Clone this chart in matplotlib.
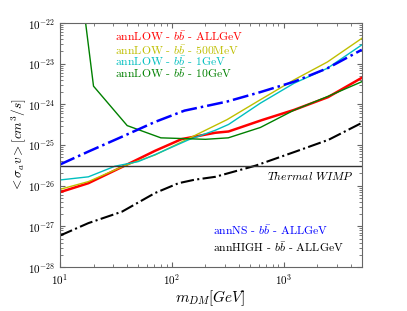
import matplotlib
matplotlib.use('Agg')
import matplotlib.pyplot as plt

plt.rcParams['mathtext.fontset'] = 'cm'
plt.rcParams['font.family'] = ['cmr10', 'DejaVu Serif']
plt.rcParams['axes.formatter.use_mathtext'] = True

# annLOW - bb - ALLGeV
m_all = [10, 18, 38, 71, 123, 245, 322, 640, 1240, 2490, 5000]
v_all = [6.9e-27, 1.15e-26, 3.1e-26, 7.2e-26, 1.4e-25, 2.0e-25, 2.15e-25, 4.1e-25, 7.3e-25, 1.5e-24, 4.5e-24]

# annLOW - bb - 500MeV
m_500 = [10, 18, 38, 71, 142, 312, 620, 1240, 2460, 5000]
v_500 = [8.1e-27, 1.26e-26, 3.1e-26, 5.7e-26, 1.45e-25, 4.2e-25, 1.3e-24, 4.0e-24, 1.1e-23, 4.2e-23]

# annLOW - bb - 1GeV
m_1 = [10, 18, 31, 50, 71, 142, 245, 322, 620, 1240, 2460, 5000]
v_1 = [1.38e-26, 1.65e-26, 3.0e-26, 3.9e-26, 5.8e-26, 1.35e-25, 2.3e-25, 3.2e-25, 1.07e-24, 3.3e-24, 7.7e-24, 2.9e-23]

# annLOW - bb - 10GeV
m_10 = [16, 20, 40, 80, 200, 320, 620, 1240, 2460, 5000]
v_10 = [3.8e-22, 2.8e-24, 3.0e-25, 1.5e-25, 1.38e-25, 1.5e-25, 2.7e-25, 7.2e-25, 1.55e-24, 3.6e-24]

# annNS - bb - ALLGeV
m_ns = [10, 18, 36, 71, 130, 200, 312, 620, 1240, 2460, 5000]
v_ns = [3.3e-26, 6.9e-26, 1.6e-25, 3.7e-25, 7.0e-25, 9.0e-25, 1.17e-24, 2.0e-24, 3.6e-24, 7.7e-24, 2.2e-23]

# annHIGH - bb - ALLGeV
m_high = [10, 18, 36, 71, 115, 160, 245, 560, 1280, 2530, 5000]
v_high = [5.9e-28, 1.2e-27, 2.3e-27, 6.6e-27, 1.15e-26, 1.4e-26, 1.65e-26, 3.1e-26, 6.9e-26, 1.35e-25, 3.5e-25]

thermal = 3e-26

low_labels = [r'annLOW - $b\bar{b}$ - ALLGeV',
              r'annLOW - $b\bar{b}$ - 500MeV',
              r'annLOW - $b\bar{b}$ - 1GeV',
              r'annLOW - $b\bar{b}$ - 10GeV']
low_colors = ['r', 'y', 'c', 'g']
other_labels = [r'annNS - $b\bar{b}$ - ALLGeV',
                r'annHIGH - $b\bar{b}$ - ALLGeV']
other_colors = ['b', 'k']

fig = plt.figure(figsize=(4.07, 3.11), dpi=100)
ax = fig.add_axes([0.147, 0.1415, 0.742, 0.7845])

ax.plot(m_all, v_all, color='r', lw=1.8)
ax.plot(m_500, v_500, color='y', lw=1)
ax.plot(m_1, v_1, color='c', lw=1)
ax.plot(m_10, v_10, color='g', lw=1)
ax.plot(m_ns, v_ns, color='b', lw=1.8, ls='-.')
ax.plot(m_high, v_high, color='k', lw=1.5, ls='-.')
ax.axhline(thermal, color='0.2', lw=1)
ax.text(0.973, 0.377, r'$\mathit{Thermal\ WIMP}$', transform=ax.transAxes,
        ha='right', va='center', fontsize=8.5)

# label blocks written as coloured text, like a legend without handles
for i, (lab, c) in enumerate(zip(low_labels, low_colors)):
    ax.text(0.182, [0.947, 0.891, 0.842, 0.796][i], lab, color=c,
            transform=ax.transAxes, ha='left', va='center', fontsize=8.4)
for i, (lab, c) in enumerate(zip(other_labels, other_colors)):
    ax.text(0.507, [0.150, 0.080][i], lab, color=c,
            transform=ax.transAxes, ha='left', va='center', fontsize=8.4)

ax.set_xscale('log')
ax.set_yscale('log')
ax.set_xlim(10, 5000)
ax.set_ylim(1e-28, 1e-22)
ax.tick_params(which='both', direction='in', top=True, right=True, labelsize=8,
               color='0.4')
for s in ax.spines.values():
    s.set_color('0.4')

ax.set_xlabel(r'$m_{DM} [GeV]$', fontsize=11, labelpad=1)
ax.set_ylabel(r'$<\sigma_a v>[cm^3/s]$', fontsize=9.5, labelpad=0)

fig.savefig('out.png', dpi=100)
